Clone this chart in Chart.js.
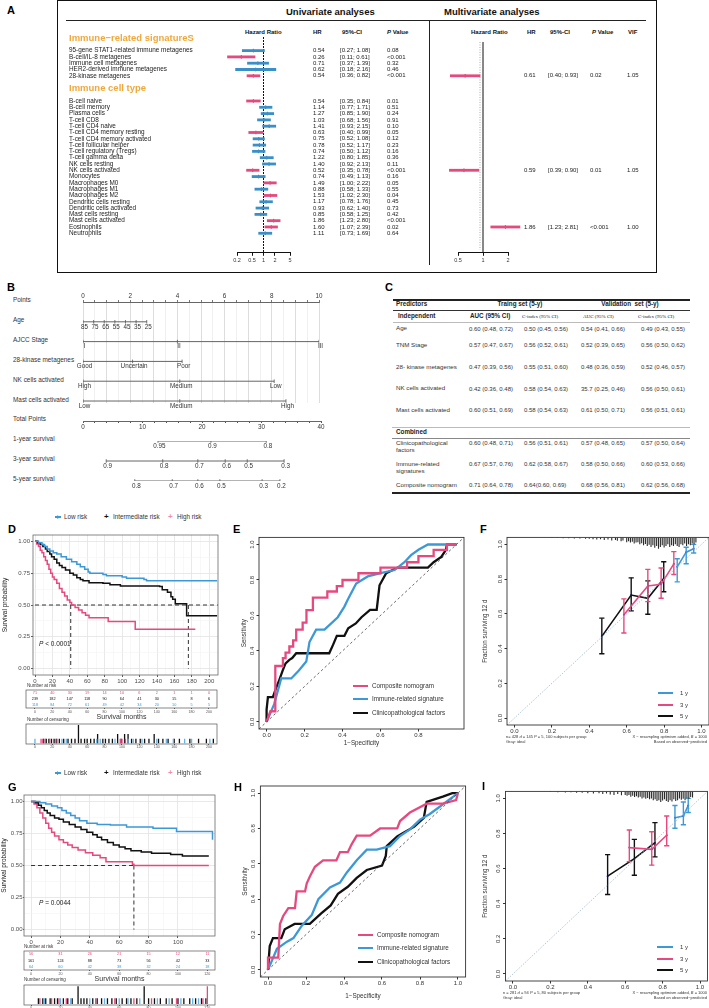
<!DOCTYPE html>
<html><head><meta charset="utf-8">
<script src="https://cdn.jsdelivr.net/npm/chart.js@4.4.1/dist/chart.umd.min.js"></script>
<style>
html,body{margin:0;padding:0;background:#fff;}
#page{position:relative;width:709px;height:1008px;overflow:hidden;font-family:'Liberation Sans',Arial,sans-serif;color:#222;}
.t{position:absolute;white-space:nowrap;line-height:1;}
.ln{position:absolute;}
canvas{position:absolute;}
</style></head><body><div id="page"></div>
<script>
// ======================= DATA =======================
// ---- Panel A: univariate / multivariate Cox ----
const sigNames=['95-gene STAT1-related immune metagenes','B-cell/IL-8 metagenes','Immune cell metagenes','HER2-derived immune metagenes','28-kinase metagenes'];
const sigHR=[0.54,0.26,0.71,0.62,0.54];
const sigLow=[0.27,0.11,0.37,0.18,0.36];
const sigHigh=[1.08,0.61,1.39,2.16,0.82];
const sigP=['0.08','<0.001','0.32','0.46','<0.001'];
const cellNames=['B-cell naive','B-cell memory','Plasma cells','T-cell CD8','T-cell CD4 naive','T-cell CD4 memory resting','T-cell CD4 memory activated','T-cell follicular helper','T-cell regulatory (Tregs)','T-cell gamma delta','NK cells resting','NK cells activated','Monocytes','Macrophages M0','Macrophages M1','Macrophages M2','Dendritic cells resting','Dendritic cells activated','Mast cells resting','Mast cells activated','Eosinophils','Neutrophils'];
const cellHR=[0.54,1.14,1.27,1.03,1.41,0.63,0.75,0.78,0.74,1.22,1.40,0.52,0.74,1.49,0.88,1.53,1.17,0.93,0.85,1.86,1.60,1.11];
const cellLow=[0.35,0.77,0.85,0.68,0.93,0.40,0.52,0.52,0.50,0.80,0.92,0.35,0.49,1.00,0.58,1.02,0.78,0.62,0.58,1.23,1.07,0.73];
const cellHigh=[0.84,1.71,1.90,1.56,2.15,0.99,1.08,1.17,1.12,1.85,2.13,0.78,1.13,2.22,1.33,2.30,1.76,1.40,1.25,2.80,2.39,1.69];
const cellP=['0.01','0.51','0.24','0.91','0.10','0.05','0.12','0.23','0.16','0.36','0.11','<0.001','0.16','0.05','0.55','0.04','0.45','0.73','0.42','<0.001','0.02','0.64'];
const multiNames=['28-kinase metagenes','NK cells activated','Eosinophils'];
const multiHR=[0.61,0.59,1.86];
const multiLow=[0.40,0.39,1.23];
const multiHigh=[0.93,0.90,2.81];
const multiP=['0.02','0.01','<0.001'];
const multiVIF=['1.05','1.05','1.00'];
const uniTicks=[0.2,0.5,1,2,5];
const multiTicks=[0.5,1,2];

// ---- Panel B: nomogram ----
const pointTicks=[0,2,4,6,8,10];
const ageLevels=['85','75','65','55','45','35','25'];
const agePts=[0,0.45,0.9,1.35,1.8,2.25,2.7];
const stageLevels=['I','II','III'];
const stagePts=[0,4,10];
const kinaseLevels=['Good','Uncertain','Poor'];
const kinasePts=[0,2.1,4.2];
const nkLevels=['High','Medium','Low'];
const nkPts=[0,4.1,8.1];
const mastLevels=['Low','Medium','High'];
const mastPts=[0,4.1,8.6];
const totalTicks=[0,10,20,30,40];
const surv1Levels=['0.95','0.9','0.8'];
const surv1Tot=[12.6,21.5,30.8];
const surv3Levels=['0.9','0.8','0.7','0.6','0.5','0.3'];
const surv3Tot=[3.9,13.4,19.3,23.9,27.6,33.8];
const surv5Levels=['0.8','0.7','0.6','0.5','0.3','0.2'];
const surv5Tot=[8.7,15.0,19.3,23.0,30.1,33.1];

// ---- Panel C: table ----
const tblPred=['Age','TNM Stage','28- kinase metagenes','NK cells activated','Mast cells activated'];
const tblTrainAUC=['0.60 (0.48, 0.72)','0.57 (0.47, 0.67)','0.47 (0.39, 0.56)','0.42 (0.36, 0.48)','0.60 (0.51, 0.69)'];
const tblTrainC=['0.50 (0.45, 0.56)','0.56 (0.52, 0.61)','0.55 (0.51, 0.60)','0.58 (0.54, 0.63)','0.58 (0.54, 0.63)'];
const tblValAUC=['0.54 (0.41, 0.66)','0.52 (0.39, 0.65)','0.48 (0.36, 0.59)','35.7 (0.25, 0.46)','0.61 (0.50, 0.71)'];
const tblValC=['0.49 (0.43, 0.55)','0.56 (0.50, 0.62)','0.52 (0.46, 0.57)','0.56 (0.50, 0.61)','0.56 (0.51, 0.61)'];
const tblComb=[['Clinicopathological','factors'],['Immune-related','signatures'],['Composite nomogram']];
const tblCombTrainAUC=['0.60 (0.48, 0.71)','0.67 (0.57, 0.76)','0.71 (0.64, 0.78)'];
const tblCombTrainC=['0.56 (0.51, 0.61)','0.62 (0.58, 0.67)','0.64(0.60, 0.69)'];
const tblCombValAUC=['0.57 (0.48, 0.65)','0.58 (0.50, 0.66)','0.68 (0.56, 0.81)'];
const tblCombValC=['0.57 (0.50, 0.64)','0.60 (0.53, 0.66)','0.62 (0.56, 0.68)'];

// ---- Panel D: KM training ----
const kmD_lowT=[0,4,8,11,14,17,21,25,30,36,42,48,52,57,61,63,78,82,100,105,125,128,209];
const kmD_lowS=[1,0.99,0.975,0.96,0.94,0.925,0.91,0.90,0.88,0.86,0.84,0.82,0.80,0.78,0.76,0.75,0.74,0.73,0.72,0.71,0.70,0.69,0.69];
const kmD_intT=[0,3,6,9,12,14,17,19,22,25,28,31,35,40,44,48,52,55,62,78,86,98,143,146,152,156,158,161,174,209];
const kmD_intS=[1,0.99,0.975,0.96,0.94,0.92,0.90,0.88,0.86,0.83,0.81,0.795,0.775,0.75,0.735,0.715,0.70,0.69,0.675,0.67,0.66,0.65,0.645,0.62,0.60,0.565,0.545,0.51,0.415,0.415];
const kmD_highT=[0,2,4,6,8,10,12,14,16,18,20,22,25,28,31,34,37,40,42,46,50,54,58,62,84,115,184];
const kmD_highS=[1,0.98,0.96,0.93,0.91,0.88,0.85,0.82,0.78,0.75,0.72,0.70,0.67,0.63,0.60,0.57,0.54,0.52,0.50,0.48,0.46,0.44,0.42,0.40,0.37,0.31,0.31];
const kmD_medians=[41,176];
const kmD_xTicks=[0,20,40,60,80,100,120,140,160,180,200];
const kmD_riskHigh=[71,40,30,19,14,10,6,2,1,1,0];
const kmD_riskInt=[239,182,147,118,90,64,41,30,15,8,6];
const kmD_riskLow=[118,84,72,61,49,42,34,20,10,5,5];
const kmD_censLow=[[0,1],[31,1],[36,1],[71,1],[75,1],[92,1],[107,1],[113,1],[123,1],[140,1],[151,1],[159,1],[172,1],[180,1],[201,1]];
const kmD_censInt=[[10,1],[13,1],[16,1],[19,1],[22,1],[25,1],[28,1],[33,1],[38,1],[42,1],[46,1],[50,4],[53,1],[57,1],[60,1],[64,1],[68,1],[72,2],[78,1],[81,1],[85,1],[89,1],[95,2],[99,1],[103,2],[107,2],[111,1],[116,1],[121,1],[126,1],[131,1],[137,2],[142,1],[147,1],[153,1],[160,1],[166,1],[178,1],[188,1],[197,1],[205,1]];
const kmD_censHigh=[[7,1],[9,1],[12,1],[17,1],[24,1],[98,1],[100,1],[104,1]];

// ---- Panel G: KM validation ----
const kmG_lowT=[0,6,10,14,18,21,24,27,30,33,38,45,54,65,83,99,123.5];
const kmG_lowS=[1,0.99,0.98,0.965,0.95,0.93,0.91,0.89,0.87,0.85,0.83,0.82,0.815,0.80,0.79,0.765,0.70];
const kmG_intT=[0,3,5,7,9,11,13,16,19,22,26,30,34,38,42,45,48,52,56,60,64,68,75,82,95,103,121];
const kmG_intS=[1,0.99,0.97,0.95,0.93,0.91,0.89,0.87,0.86,0.84,0.82,0.80,0.78,0.76,0.74,0.72,0.70,0.68,0.66,0.645,0.63,0.615,0.605,0.595,0.585,0.575,0.575];
const kmG_highT=[0,2,4,6,8,10,12,14,16,19,22,25,28,32,37,42,47,51,69,70,121];
const kmG_highS=[1,0.98,0.95,0.91,0.87,0.83,0.79,0.76,0.73,0.70,0.68,0.66,0.64,0.62,0.60,0.58,0.56,0.53,0.51,0.50,0.50];
const kmG_medians=[70];
const kmG_xTicks=[0,20,40,60,80,100];
const kmG_riskMonths=[0,20,40,60,80,100,120];
const kmG_riskHigh=[56,31,26,21,15,12,11];
const kmG_riskInt=[161,124,88,73,56,42,33];
const kmG_riskLow=[64,60,42,38,32,24,18];
const kmG_censLow=[[9,1],[20,1],[27,1],[40,1],[50,1],[60,1],[66,1],[74,1],[86,1],[94,1],[102,1],[110,1],[114,1]];
const kmG_censInt=[[5,1],[8,1],[10,1],[13,1],[16,1],[18,1],[22,1],[25,1],[28,1],[32,3],[34,1],[36,1],[38,1],[42,1],[45,1],[48,1],[52,1],[55,1],[58,1],[62,1],[65,1],[68,1],[72,1],[77,3],[80,1],[84,1],[88,1],[92,1],[96,1],[100,1],[104,1],[108,1],[112,1],[116,1],[119,1]];
const kmG_censHigh=[[6,1],[14,1],[19,1],[24,1],[44,1],[57,1],[70,1],[82,1],[99,1],[117,1],[120,3]];
const kmYTicks=[0,0.25,0.5,0.75,1];
const kmYLabels=['0.00','0.25','0.50','0.75','1.00'];

// ---- Panel E / H: ROC ----
const rocE_compX=[0,0.02,0.046,0.046,0.086,0.086,0.10,0.10,0.12,0.12,0.14,0.14,0.156,0.156,0.19,0.19,0.21,0.21,0.244,0.244,0.32,0.32,0.37,0.37,0.40,0.40,0.484,0.484,0.60,0.60,0.74,0.74,0.80,0.80,0.88,0.88,0.95,0.95,1.0];
const rocE_compY=[0,0.06,0.06,0.315,0.315,0.36,0.36,0.39,0.39,0.425,0.425,0.46,0.46,0.52,0.52,0.56,0.56,0.63,0.63,0.70,0.70,0.735,0.735,0.765,0.765,0.80,0.80,0.838,0.838,0.87,0.87,0.90,0.90,0.935,0.935,0.97,0.97,1.0,1.0];
const rocE_immX=[0,0.04,0.077,0.13,0.17,0.209,0.226,0.261,0.305,0.375,0.41,0.428,0.472,0.533,0.60,0.674,0.726,0.761,0.80,0.85,1.0];
const rocE_immY=[0,0.10,0.245,0.245,0.29,0.34,0.45,0.52,0.52,0.59,0.65,0.69,0.78,0.82,0.838,0.856,0.90,0.94,0.97,1.0,1.0];
const rocE_clinX=[0,0,0.007,0.033,0.05,0.068,0.086,0.10,0.12,0.135,0.156,0.33,0.35,0.37,0.41,0.43,0.47,0.50,0.545,0.58,0.595,0.63,0.69,0.85,0.88,0.92,0.945,0.95,1.0];
const rocE_clinY=[0,0.07,0.14,0.14,0.19,0.24,0.293,0.33,0.35,0.36,0.387,0.387,0.434,0.485,0.485,0.528,0.555,0.59,0.631,0.631,0.77,0.838,0.87,0.87,0.90,0.93,0.97,1.0,1.0];
const rocE_xTicks=[0,0.2,0.4,0.6,0.8];
const rocH_compX=[0,0,0.054,0.063,0.08,0.107,0.142,0.151,0.195,0.204,0.221,0.247,0.29,0.36,0.379,0.42,0.44,0.467,0.537,0.59,0.68,0.695,0.747,0.835,0.92,0.99,1.0];
const rocH_compY=[0,0.07,0.07,0.26,0.305,0.35,0.35,0.444,0.444,0.49,0.53,0.583,0.62,0.62,0.666,0.666,0.71,0.759,0.759,0.80,0.80,0.842,0.89,0.94,0.94,0.96,1.0];
const rocH_immX=[0,0.047,0.10,0.134,0.178,0.23,0.265,0.326,0.379,0.414,0.467,0.52,0.572,0.642,0.695,0.747,0.80,0.85,0.90,0.95,1.0];
const rocH_immY=[0,0.12,0.16,0.18,0.25,0.31,0.40,0.466,0.494,0.55,0.62,0.68,0.68,0.70,0.757,0.795,0.85,0.88,0.92,0.96,1.0];
const rocH_clinX=[0,0.009,0.026,0.07,0.088,0.14,0.22,0.28,0.33,0.368,0.42,0.467,0.52,0.60,0.62,0.625,0.68,0.72,0.77,0.82,0.835,0.92,0.97,1.0];
const rocH_clinY=[0,0.135,0.18,0.18,0.23,0.26,0.26,0.32,0.365,0.43,0.47,0.52,0.565,0.59,0.645,0.70,0.755,0.78,0.81,0.86,0.95,0.98,1.0,1.0];
const rocH_xTicks=[0,0.2,0.4,0.6,0.8,1.0];
const rocYTicks=[0,0.2,0.4,0.6,0.8,1.0];

// ---- Panel F / I: calibration ----
const calF_1y={x:[0.87,0.918,0.958],y:[0.87,0.955,0.975],lo:[0.784,0.888,0.95],hi:[0.917,0.983,1.0]};
const calF_3y={x:[0.585,0.713,0.784,0.852],y:[0.595,0.76,0.77,0.888],lo:[0.49,0.67,0.69,0.826],hi:[0.686,0.856,0.864,0.958]};
const calF_5y={x:[0.467,0.624,0.713,0.798],y:[0.47,0.708,0.689,0.803],lo:[0.37,0.617,0.598,0.727],hi:[0.575,0.807,0.79,0.90]};
const calI_1y={x:[0.866,0.911,0.937],y:[0.89,0.90,0.96],lo:[0.83,0.85,0.92],hi:[0.96,0.98,1.0]};
const calI_3y={x:[0.622,0.742,0.822],y:[0.72,0.71,0.79],lo:[0.64,0.62,0.73],hi:[0.82,0.81,0.90]};
const calI_5y={x:[0.506,0.649,0.759],y:[0.557,0.657,0.748],lo:[0.453,0.562,0.667],hi:[0.68,0.767,0.862]};
const rugF=[[0.20,0.004],[0.23,0.004],[0.26,0.005],[0.29,0.005],[0.32,0.006],[0.35,0.006],[0.38,0.008],[0.40,0.008],[0.42,0.01],[0.44,0.012],[0.46,0.01],[0.48,0.015],[0.50,0.012],[0.52,0.018],[0.54,0.015],[0.55,0.02],[0.57,0.022],[0.58,0.018],[0.60,0.028],[0.61,0.022],[0.62,0.03],[0.63,0.025],[0.64,0.035],[0.65,0.03],[0.66,0.028],[0.67,0.04],[0.68,0.033],[0.69,0.045],[0.70,0.038],[0.71,0.05],[0.72,0.042],[0.73,0.055],[0.74,0.045],[0.75,0.06],[0.76,0.05],[0.77,0.065],[0.78,0.055],[0.79,0.045],[0.80,0.058],[0.81,0.05],[0.82,0.04],[0.83,0.055],[0.84,0.045],[0.85,0.05],[0.86,0.04],[0.87,0.05],[0.88,0.055],[0.89,0.04],[0.90,0.045],[0.91,0.035],[0.92,0.05],[0.93,0.04],[0.94,0.045],[0.95,0.035],[0.96,0.04],[0.97,0.03]];
const rugI=[[0.20,0.004],[0.24,0.005],[0.28,0.006],[0.31,0.005],[0.34,0.008],[0.37,0.008],[0.40,0.01],[0.43,0.012],[0.46,0.01],[0.48,0.015],[0.50,0.012],[0.52,0.018],[0.54,0.02],[0.56,0.015],[0.58,0.022],[0.60,0.02],[0.61,0.025],[0.62,0.02],[0.63,0.03],[0.64,0.025],[0.65,0.032],[0.66,0.028],[0.67,0.035],[0.68,0.03],[0.69,0.04],[0.70,0.035],[0.71,0.042],[0.72,0.038],[0.73,0.045],[0.74,0.04],[0.75,0.05],[0.76,0.045],[0.77,0.055],[0.78,0.05],[0.79,0.06],[0.80,0.052],[0.81,0.045],[0.82,0.055],[0.83,0.06],[0.84,0.05],[0.85,0.058],[0.86,0.045],[0.87,0.055],[0.88,0.05],[0.89,0.04],[0.90,0.048],[0.91,0.042],[0.92,0.05],[0.93,0.038],[0.94,0.042],[0.95,0.032],[0.96,0.035]];
const calTicks=[0,0.2,0.4,0.6,0.8,1.0];

// ======================= STYLE / HELPERS =======================
const FAM="'Liberation Sans', Arial, sans-serif";
const FBLUE='#3a8fc9', FPINK='#e44a7e', ORANGE='#f0a83a';
const BLUE='#3d99d6', PINK='#e6497f', BLACK='#111111';
Chart.defaults.font.family=FAM;
Chart.defaults.animation=false;
Chart.defaults.responsive=false;
Chart.defaults.maintainAspectRatio=false;
Chart.defaults.devicePixelRatio=1;
Chart.defaults.events=[];
Chart.defaults.plugins.legend.display=false;
Chart.defaults.plugins.tooltip.enabled=false;

const page=document.getElementById('page');
function txt(s,x,y,size,o){o=o||{};const d=document.createElement('div');d.className='t';
  if(o.html)d.innerHTML=s;else d.textContent=s;
  d.style.top=(y-size/2)+'px';d.style.fontSize=size+'px';
  if(o.align==='right'){d.style.right=(709-x)+'px';}else{d.style.left=x+'px';}
  if(o.align==='center')d.style.transform='translateX(-50%)';
  if(o.bold)d.style.fontWeight='bold';if(o.italic)d.style.fontStyle='italic';
  if(o.color)d.style.color=o.color;if(o.family)d.style.fontFamily=o.family;
  page.appendChild(d);return d;}
function hrule(x1,x2,y,w,c){const d=document.createElement('div');d.className='ln';d.style.left=x1+'px';d.style.top=(y-w/2)+'px';d.style.width=(x2-x1)+'px';d.style.height=w+'px';d.style.background=c;page.appendChild(d);}
function vrule(x,y1,y2,w,c){const d=document.createElement('div');d.className='ln';d.style.left=(x-w/2)+'px';d.style.top=y1+'px';d.style.width=w+'px';d.style.height=(y2-y1)+'px';d.style.background=c;page.appendChild(d);}
function cv(x,y,w,h){const c=document.createElement('canvas');c.width=w;c.height=h;c.style.left=x+'px';c.style.top=y+'px';c.style.width=w+'px';c.style.height=h+'px';page.appendChild(c);return c;}
function frame(color,width){return {id:'frame',afterDraw(ch){const a=ch.chartArea,c=ch.ctx;c.save();c.strokeStyle=color;c.lineWidth=width;c.strokeRect(a.left,a.top,a.right-a.left,a.bottom-a.top);c.restore();}};}
function letter(s,x,y){txt(s,x,y,11,{bold:true,color:'#000'});}
const isSig=p=>p.charAt(0)==='<'||parseFloat(p)<=0.05;

// ======================= PANEL A =======================
letter('A',7,10);
const boxA=document.createElement('div');boxA.className='ln';
Object.assign(boxA.style,{left:'57px',top:'0px',width:'600px',height:'273px',border:'1.5px solid #111',boxSizing:'border-box'});
page.appendChild(boxA);
txt('Univariate analyses',286,12,9.5,{bold:true,color:'#111'});
txt('Multivariate analyses',444,12,9.5,{bold:true,color:'#111'});
hrule(66,646,20,1,'#222');
vrule(429,20,265,1,'#222');
[['Hazard Ratio',245],['HR',313],['95%-CI',342],['<i>P</i> Value',387],['Hazard Ratio',471],['HR',527],['95%-CI',550],['<i>P</i> Value',592],['VIF',628]]
  .forEach(h=>txt(h[0],h[1],32,6,{bold:true,html:true,color:'#111'}));

const rows=[];
rows.push({head:'Immune\u2212related signatureS'});rows.push({});
sigNames.forEach((n,i)=>rows.push({name:n,hr:sigHR[i],lo:sigLow[i],hi:sigHigh[i],p:sigP[i]}));
rows.push({});rows.push({head:'Immune cell type'});rows.push({});
cellNames.forEach((n,i)=>rows.push({name:n,hr:cellHR[i],lo:cellLow[i],hi:cellHigh[i],p:cellP[i]}));
const ciStr=(lo,hi)=>'['+lo.toFixed(2)+'; '+hi.toFixed(2)+']';

function forest(canvas,items,xmin,xmax,ticks,pad,refTop,refDash,texts){
  const ci=[],pts=[];
  items.forEach(it=>{ci.push({x:it.lo,y:it.idx},{x:it.hi,y:it.idx},{x:it.hi,y:null});pts.push({x:it.hr,y:it.idx});});
  const col=i=>items[i].sig?FPINK:FBLUE;
  const dark=i=>items[i].sig?'#b23460':'#2a6c9c';
  new Chart(canvas,{type:'line',data:{datasets:[
    {data:ci,borderWidth:2.8,pointRadius:0,clip:false,borderColor:FBLUE,segment:{borderColor:c=>col(Math.floor(c.p0DataIndex/3))}},
    {data:pts,showLine:false,clip:false,pointStyle:'line',rotation:90,pointRadius:1.8,pointBorderWidth:1,pointBorderColor:pts.map((p,i)=>dark(i))}
  ]},options:{layout:{padding:pad},scales:{
    x:{type:'logarithmic',min:xmin,max:xmax,afterBuildTicks:s=>{s.ticks=ticks.map(v=>({value:v}));},afterFit:s=>{s.height=14.2;},
       ticks:{callback:v=>String(v),font:{size:5.5},color:'#333',padding:1,maxRotation:0,autoSkip:false},
       grid:{drawOnChartArea:false,tickLength:3,color:'#111'},border:{display:true,color:'#111',width:1}},
    y:{type:'linear',reverse:true,min:-1,max:34.1,display:false}}},
   plugins:[{id:'fref',beforeDatasetsDraw(ch){const c=ch.ctx,x=ch.scales.x.getPixelForValue(1);c.save();c.strokeStyle='#111';c.lineWidth=1;c.setLineDash(refDash);c.beginPath();c.moveTo(x,refTop);c.lineTo(x,ch.chartArea.bottom);c.stroke();
       if(!refDash.length){c.strokeStyle='#aaa';c.setLineDash([1,1.5]);c.beginPath();c.moveTo(x-3,refTop);c.lineTo(x-3,ch.chartArea.bottom-3);c.stroke();}
       c.restore();},
     afterDraw(ch){texts(ch);}}]});
}
// univariate
const uniItems=[];rows.forEach((r,i)=>{if(r.name)uniItems.push({idx:i,hr:r.hr,lo:r.lo,hi:r.hi,sig:isSig(r.p)});});
forest(cv(60,22,368,245),uniItems,0.2,5,uniTicks,{left:177,right:138,top:9.7,bottom:0},15,[2,1],ch=>{
  const c=ch.ctx,y=ch.scales.y;c.save();c.textBaseline='middle';
  rows.forEach((r,i)=>{const py=y.getPixelForValue(i);
    if(r.head){c.font='bold 9.5px '+FAM;c.fillStyle=ORANGE;c.fillText(r.head,9,py);}
    else if(r.name){c.fillStyle='#222';c.font='6.4px '+FAM;c.fillText(r.name,9,py);
      c.font='6px '+FAM;c.fillText(r.hr.toFixed(2),253,py);c.fillText(ciStr(r.lo,r.hi),280,py);c.fillText(r.p,327,py);}});
  c.restore();});
// multivariate
const multiItems=multiNames.map((n,i)=>({idx:rows.findIndex(r=>r.name===n),hr:multiHR[i],lo:multiLow[i],hi:multiHigh[i],sig:true}));
forest(cv(430,22,226,245),multiItems,0.5,2,multiTicks,{left:28,right:148,top:9.7,bottom:0},20,[],ch=>{
  const c=ch.ctx,y=ch.scales.y;c.save();c.textBaseline='middle';c.fillStyle='#222';c.font='6px '+FAM;
  multiItems.forEach((it,i)=>{const py=y.getPixelForValue(it.idx);
    c.fillText(multiHR[i].toFixed(2),94,py);c.fillText(ciStr(multiLow[i],multiHigh[i]),118,py);c.fillText(multiP[i],160,py);c.fillText(multiVIF[i],197,py);});
  c.restore();});

// ======================= PANEL B =======================
letter('B',7,287.5);
[['Points',300],['Age',320],['AJCC Stage',340],['28-kinase metagenes',360],['NK cells activated',380],['Mast cells activated',400],['Total Points',419],['1-year survival',439],['3-year survival',459],['5-year survival',479]]
  .forEach(l=>txt(l[0],13,l[1],6.4,{color:'#333'}));
function rowDatasets(spec){return spec.map(r=>({data:r.pts.map(p=>({x:p,y:r.row})),borderColor:'#555',borderWidth:0.9,pointStyle:'line',rotation:90,pointRadius:1.8,pointBorderColor:'#555',pointBorderWidth:0.8}));}
function rowLabels(spec){return {id:'rowlab',afterDraw(ch){const c=ch.ctx,xs=ch.scales.x,ys=ch.scales.y;c.save();c.font='6.3px '+FAM;c.fillStyle='#333';c.textAlign='center';c.textBaseline='middle';
  spec.forEach(r=>r.pts.forEach((p,k)=>c.fillText(r.labels[k],xs.getPixelForValue(p)+1.5,ys.getPixelForValue(r.row)+5)));c.restore();}};}
const nomoTop=[{row:1,pts:agePts,labels:ageLevels},{row:2,pts:stagePts,labels:stageLevels},{row:3,pts:kinasePts,labels:kinaseLevels},{row:4,pts:nkPts,labels:nkLevels},{row:5,pts:mastPts,labels:mastLevels}];
new Chart(cv(13,290,320,120),{type:'line',data:{datasets:rowDatasets(nomoTop)},options:{layout:{padding:{left:70,right:14,top:0,bottom:7}},scales:{
  x:{type:'linear',position:'top',min:0,max:10,afterBuildTicks:s=>{const t=[];for(let v=0;v<=10.001;v+=0.5)t.push({value:Math.round(v*10)/10});s.ticks=t;},afterFit:s=>{s.height=12;},
     ticks:{autoSkip:false,maxRotation:0,padding:0,font:{size:6.3},color:'#333',callback:v=>pointTicks.includes(v)?String(v):''},
     grid:{color:g=>(g.tick&&g.tick.value%1===0)?'#d4d4d4':'#ececec',lineWidth:0.8,tickLength:2,tickColor:'#555'},border:{display:true,color:'#555',width:0.9}},
  y:{type:'linear',reverse:true,min:0,max:5.1,display:false}}},plugins:[rowLabels(nomoTop)]});
new Chart(cv(13,412,320,20),{type:'line',data:{datasets:[]},options:{layout:{padding:{left:70,right:12,top:0,bottom:0}},scales:{
  x:{type:'linear',position:'bottom',min:0,max:40,afterBuildTicks:s=>{const t=[];for(let v=0;v<=40;v+=2)t.push({value:v});s.ticks=t;},afterFit:s=>{s.height=11;},
     ticks:{autoSkip:false,maxRotation:0,padding:0,font:{size:6.3},color:'#333',callback:v=>totalTicks.includes(v)?String(v):''},
     grid:{drawOnChartArea:false,tickLength:2,color:'#555'},border:{display:true,color:'#555',width:0.9}},
  y:{display:false,min:0,max:1}}}});
const nomoBot=[{row:1,pts:surv1Tot,labels:surv1Levels},{row:2,pts:surv3Tot,labels:surv3Levels},{row:3,pts:surv5Tot,labels:surv5Levels}];
new Chart(cv(13,432,320,58),{type:'line',data:{datasets:rowDatasets(nomoBot)},options:{layout:{padding:{left:70,right:12,top:9,bottom:9}},scales:{
  x:{type:'linear',min:0,max:40,display:false},y:{type:'linear',reverse:true,min:1,max:3,display:false}}},plugins:[rowLabels(nomoBot)]});

// ======================= PANEL C =======================
letter('C',385,287.5);
hrule(393,690,300,1.5,'#222');
txt('Predictors',396,304,6.3,{bold:true});
txt('Traing set (5-y)',520,304,6.3,{bold:true,align:'center'});
txt('Validation &nbsp;set (5-y)',630,304,6.3,{bold:true,align:'center',html:true});
hrule(393,690,310.5,1,'#333');
txt('Independent',398,316,6.3,{bold:true});
txt('AUC (95% CI)',470,316,6.3,{bold:true});
txt('C-index (95% CI)',522,316,5,{family:"'Liberation Serif', serif"});
txt('AUC (95% CI)',583,316,5,{family:"'Liberation Serif', serif"});
txt('C-index (95% CI)',638,316,5,{family:"'Liberation Serif', serif"});
hrule(393,690,322,0.8,'#bbb');
const tblRowsY=[328.5,345,367,388.5,410];
tblPred.forEach((p,i)=>{const y=tblRowsY[i];txt(p,396,y,6.2,{color:'#333'});
  txt(tblTrainAUC[i],469,y,6,{color:'#333'});txt(tblTrainC[i],524,y,6,{color:'#333'});txt(tblValAUC[i],581,y,6,{color:'#333'});txt(tblValC[i],641,y,6,{color:'#333'});});
hrule(392,690,427,0.8,'#bbb');
txt('Combined',396,432,6.3,{bold:true});
hrule(392,690,438,0.8,'#888');
const tblCombY=[443,464,485];
tblComb.forEach((lines,i)=>{const y=tblCombY[i];lines.forEach((l,k)=>txt(l,396,y+k*7.3,6.2,{color:'#333'}));
  txt(tblCombTrainAUC[i],469,y,6,{color:'#333'});txt(tblCombTrainC[i],524,y,6,{color:'#333'});txt(tblCombValAUC[i],581,y,6,{color:'#333'});txt(tblCombValC[i],641,y,6,{color:'#333'});});
hrule(392,690,493,1.5,'#222');

// ======================= KM (D, G) =======================
function kmLegend(y){
  hrule(55,61,y,2,BLUE);txt('+',55.5,y,7,{color:BLUE,bold:true});txt('Low risk',64,y,6.3,{color:'#333'});
  txt('+',104,y,8,{color:'#111',bold:true});txt('Intermediate risk',113,y,6.3,{color:'#333'});
  txt('+',168,y,8,{color:'#f08cb0',bold:true});txt('High risk',177,y,6.3,{color:'#333'});
}
function kmChart(canvas,c){
  const ds=[];
  c.curves.forEach(k=>ds.push({data:k.t.map((t,i)=>({x:t,y:k.s[i]})),borderColor:k.color,borderWidth:1.5,stepped:true,pointRadius:0}));
  ds.push({data:[{x:0,y:0.5},{x:c.hEnd,y:0.5}],borderColor:'#333',borderWidth:1,borderDash:[4,3],pointRadius:0});
  c.medians.forEach(m=>ds.push({data:[{x:m,y:0.5},{x:m,y:0}],borderColor:'#333',borderWidth:1,borderDash:[4,3],pointRadius:0}));
  const xm=c.xTicks,xAll=xm.concat(xm.map(v=>v+(xm[1]-xm[0])/2).filter(v=>v<c.xMax)).sort((a,b)=>a-b);
  const ym=kmYTicks,yAll=ym.concat(ym.slice(0,-1).map(v=>v+0.125)).sort((a,b)=>a-b);
  new Chart(canvas,{type:'line',data:{datasets:ds},options:{layout:{padding:{top:c.padTop,right:c.padRight,left:0,bottom:0}},scales:{
    x:{type:'linear',min:c.xMin,max:c.xMax,afterBuildTicks:s=>{s.ticks=xAll.map(v=>({value:v}));},afterFit:s=>{s.height=13;},
       ticks:{autoSkip:false,maxRotation:0,font:{size:6},color:'#4d4d4d',padding:1,callback:v=>xm.includes(v)?String(v):''},
       grid:{color:g=>(g.tick&&xm.includes(g.tick.value))?'#e3e3e3':'#f1f1f1',lineWidth:g=>(g.tick&&xm.includes(g.tick.value))?0.8:0.5,tickLength:2,tickColor:g=>(g.tick&&xm.includes(g.tick.value))?'#333':'rgba(0,0,0,0)'},border:{display:false}},
    y:{type:'linear',min:-0.05,max:1.05,afterBuildTicks:s=>{s.ticks=yAll.map(v=>({value:v}));},afterFit:s=>{s.width=c.yW;},
       ticks:{autoSkip:false,font:{size:6},color:'#4d4d4d',padding:c.yPad,callback:v=>{const k=ym.indexOf(v);return k>=0?kmYLabels[k]:'';}},
       grid:{color:g=>(g.tick&&ym.includes(g.tick.value))?'#e3e3e3':'#f1f1f1',lineWidth:g=>(g.tick&&ym.includes(g.tick.value))?0.8:0.5,tickLength:c.yTick,tickColor:g=>(g.tick&&ym.includes(g.tick.value))?'#333':'rgba(0,0,0,0)'},border:{display:false},
       title:{display:true,text:'Survival probability',font:{size:6.5},color:'#222',padding:{top:c.yTitlePad,bottom:0}}}}},
    plugins:[frame('#6a6a6a',0.8)]});
}
function riskChart(canvas,c){
  new Chart(canvas,{type:'line',data:{datasets:[]},options:{layout:{padding:c.pad},scales:{
    x:{type:'linear',min:c.xMin,max:c.xMax,afterBuildTicks:s=>{s.ticks=c.months.map(v=>({value:v}));},afterFit:s=>{s.height=c.xH;},
       ticks:{autoSkip:false,maxRotation:0,font:{size:3.6},color:'#555',padding:0.5},grid:{drawOnChartArea:false,tickLength:1,color:'#555'},border:{display:false},
       title:{display:true,text:'Survival months',font:{size:7},color:'#333',padding:{top:0,bottom:0}}},
    y:{type:'linear',reverse:true,min:-0.46,max:2.46,display:false}}},
    plugins:[frame('#555',0.7),{id:'risk',afterDraw(ch){const x=ch.scales.x,y=ch.scales.y,ctx=ch.ctx;ctx.save();ctx.font='3.8px '+FAM;ctx.textAlign='center';ctx.textBaseline='middle';
      [[c.high,PINK],[c.inter,'#111'],[c.low,BLUE]].forEach((r,ri)=>{ctx.fillStyle=r[1];c.months.forEach((m,k)=>ctx.fillText(String(r[0][k]),x.getPixelForValue(m),y.getPixelForValue(ri)));});ctx.restore();}}]});
}
function censorChart(canvas,c){
  const seg=(arr,color)=>{const d=[];arr.forEach(([t,n])=>d.push({x:t,y:0},{x:t,y:n},{x:t,y:null}));return {data:d,borderColor:color,borderWidth:1.3,pointRadius:0};};
  new Chart(canvas,{type:'line',data:{datasets:[seg(c.low,'#62b4ea'),seg(c.high,PINK),seg(c.inter,'#111')]},options:{layout:{padding:c.pad},scales:{
    x:{type:'linear',min:c.xMin,max:c.xMax,afterBuildTicks:s=>{s.ticks=c.months.map(v=>({value:v}));},afterFit:s=>{s.height=c.xH;},
       ticks:{autoSkip:false,maxRotation:0,font:{size:3.6},color:'#555',padding:0},grid:{drawOnChartArea:false,tickLength:1,color:'#555'},border:{display:false}},
    y:{type:'linear',min:-0.15,max:c.yMax,display:false}}},plugins:[frame('#555',0.7)]});
}
// D
letter('D',8,529);
kmLegend(517);
kmChart(cv(0,508,222,180),{xMin:-2.3,xMax:210,xTicks:kmD_xTicks,padTop:27,padRight:4,yW:33,yPad:1,yTick:2,yTitlePad:1,hEnd:210,medians:kmD_medians,
  curves:[{t:kmD_lowT,s:kmD_lowS,color:BLUE},{t:kmD_intT,s:kmD_intS,color:BLACK},{t:kmD_highT,s:kmD_highS,color:PINK}]});
txt('<i>P</i> &lt; 0.0001',39,644,6.5,{html:true,color:'#222'});
txt('Number at risk',27,686,4.5,{color:'#333'});
riskChart(cv(20,688,202,33),{pad:{left:6,right:5,top:2,bottom:0},xH:13,xMin:-10.3,xMax:209.2,months:kmD_xTicks,high:kmD_riskHigh,inter:kmD_riskInt,low:kmD_riskLow});
txt('Number of censoring',27,720,4.5,{color:'#333'});
censorChart(cv(20,722,202,30),{pad:{left:6,right:5,top:2,bottom:0},xH:8,xMin:-10.3,xMax:209.2,months:kmD_xTicks,yMax:4.2,low:kmD_censLow,inter:kmD_censInt,high:kmD_censHigh});
// G
letter('G',8,787);
kmLegend(773);
kmChart(cv(0,790,220,159),{xMin:-4.8,xMax:125.2,xTicks:kmG_xTicks,padTop:5,padRight:5,yW:24,yPad:0.5,yTick:1,yTitlePad:0.6,hEnd:70,medians:kmG_medians,
  curves:[{t:kmG_lowT,s:kmG_lowS,color:BLUE},{t:kmG_intT,s:kmG_intS,color:BLACK},{t:kmG_highT,s:kmG_highS,color:PINK}]});
txt('<i>P</i> = 0.0044',39,903,6.5,{html:true,color:'#222'});
txt('Number at risk',24,947,4.5,{color:'#333'});
riskChart(cv(18,949,202,34),{pad:{left:6,right:5,top:2,bottom:0},xH:13,xMin:-4.8,xMax:125.2,months:kmG_riskMonths,high:kmG_riskHigh,inter:kmG_riskInt,low:kmG_riskLow});
txt('Number of censoring',24,980,4.5,{color:'#333'});
censorChart(cv(18,983,202,25),{pad:{left:6,right:5,top:2,bottom:0},xH:3,xMin:-4.8,xMax:125.2,months:kmG_riskMonths,yMax:3.2,low:kmG_censLow,inter:kmG_censInt,high:kmG_censHigh});

// ======================= ROC (E, H) =======================
function rAxis(ticks,size,titleText,titlePad,afterFitFn,isY){
  const o={type:'linear',min:-0.04,max:1.04,afterBuildTicks:s=>{s.ticks=ticks.map(v=>({value:v}));},afterFit:afterFitFn,
    ticks:{autoSkip:false,font:{size:6},color:'#333',padding:0,callback:v=>v.toFixed(1)},
    grid:{drawOnChartArea:false,tickLength:2.5,color:'#333'},border:{display:false}};
  if(isY){o.ticks.minRotation=90;o.ticks.maxRotation=90;o.ticks.crossAlign='center';}else{o.ticks.maxRotation=0;}
  if(titleText)o.title={display:true,text:titleText,font:{size:6.3},color:'#333',padding:{top:titlePad,bottom:0}};
  return o;
}
function rocChart(canvas,c){
  const ds=[{data:[{x:-0.04,y:-0.04},{x:1.04,y:1.04}],borderColor:'#444',borderWidth:0.8,borderDash:[2.5,2.5],pointRadius:0}];
  c.curves.forEach(k=>ds.push({data:k.x.map((x,i)=>({x,y:k.y[i]})),borderColor:k.color,borderWidth:2.3,pointRadius:0}));
  new Chart(canvas,{type:'line',data:{datasets:ds},options:{layout:{padding:c.pad},scales:{
    x:rAxis(c.xTicks,6,'1\u2212Specificity',1,s=>{s.height=c.xH;},false),
    y:rAxis(rocYTicks,6,'Sensitivity',c.yTitlePad,s=>{s.width=c.yW;},true)}},plugins:[frame('#333',0.9)]});
}
function rocLegend(x1,x2,ys){const names=['Composite nomogram','Immune-related signature','Clinicopathological factors'],cols=[PINK,BLUE,BLACK];
  ys.forEach((y,i)=>{hrule(x1,x2,y,2.2,cols[i]);txt(names[i],x2+4,y,6.3,{color:'#333'});});}
letter('E',233,529);
rocChart(cv(232,532,236,215),{pad:{top:5.4,right:4,left:0,bottom:0},xH:18,yW:27,yTitlePad:8.4,xTicks:rocE_xTicks,
  curves:[{x:rocE_compX,y:rocE_compY,color:PINK},{x:rocE_immX,y:rocE_immY,color:BLUE},{x:rocE_clinX,y:rocE_clinY,color:BLACK}]});
rocLegend(353,368,[686,699,713]);
letter('H',234,787);
rocChart(cv(232,781,236,219),{pad:{top:5,right:2.4,left:0,bottom:0},xH:23,yW:28.4,yTitlePad:9.4,xTicks:rocH_xTicks,
  curves:[{x:rocH_compX,y:rocH_compY,color:PINK},{x:rocH_immX,y:rocH_immY,color:BLUE},{x:rocH_clinX,y:rocH_clinY,color:BLACK}]});
rocLegend(358,373,[935,948,962]);

// ======================= CALIBRATION (F, I) =======================
function calChart(canvas,c){
  const ds=[{data:[{x:-0.04,y:-0.04},{x:1.04,y:1.04}],borderColor:'#9db6cf',borderWidth:0.8,borderDash:[1.5,1.5],pointRadius:0}];
  const rug=[];c.rug.forEach(([x,h])=>rug.push({x,y:1.04},{x,y:1.04-h},{x,y:null}));
  ds.push({data:rug,borderColor:'#2a2a2a',borderWidth:1.1,pointRadius:0});
  c.series.forEach(s=>{const eb=[];s.x.forEach((x,i)=>eb.push({x,y:s.lo[i]},{x,y:s.hi[i]},{x,y:null}));
    ds.push({data:eb,borderColor:s.color,borderWidth:1.4,pointStyle:'line',pointRadius:2.6,pointBorderColor:s.color,pointBorderWidth:1.4});
    ds.push({data:s.x.map((x,i)=>({x,y:s.y[i]})),borderColor:s.color,borderWidth:1.6,pointRadius:1,pointBackgroundColor:'#3b3bd0',pointBorderWidth:0});});
  new Chart(canvas,{type:'line',data:{datasets:ds},options:{layout:{padding:c.pad},scales:{
    x:rAxis(calTicks,6,null,0,s=>{s.height=c.xH;},false),
    y:rAxis(calTicks,6,'Fraction surviving 12 d',c.yTitlePad,s=>{s.width=c.yW;},true)}},plugins:[frame('#333',0.9)]});
}
function calLegend(x1,x2,ys){const names=['1 y','3 y','5 y'],cols=[BLUE,PINK,BLACK];
  ys.forEach((y,i)=>{hrule(x1,x2,y,2.2,cols[i]);txt(names[i],680,y,6,{color:'#333'});});}
letter('F',480,529.5);
calChart(cv(478,532,240,215),{pad:{top:3,right:9,left:0,bottom:0},xH:22,yW:29,yTitlePad:3.4,rug:rugF,
  series:[{...calF_1y,color:BLUE},{...calF_3y,color:PINK},{...calF_5y,color:BLACK}]});
calLegend(658,673,[693,705,716]);
txt('n= 428 <i>d</i> = 145 <i>P</i> = 5, 100 subjects per group',506,736.5,4,{html:true,color:'#333'});
txt('Gray: ideal',506,741.5,4,{color:'#333'});
txt('X \u2212 resampling optimism added, <i>B</i> = 1000',707,736.5,4,{html:true,align:'right',color:'#333'});
txt('Based on observed\u2212predicted',707,741.5,4,{align:'right',color:'#333'});
letter('I',482,786);
calChart(cv(476,786,240,222),{pad:{top:5,right:8.5,left:0,bottom:0},xH:27,yW:29.5,yTitlePad:5.4,rug:rugI,
  series:[{...calI_1y,color:BLUE},{...calI_3y,color:PINK},{...calI_5y,color:BLACK}]});
calLegend(657,673,[947,959,970]);
txt('n = 281 <i>d</i> = 94 <i>P</i> = 5, 80 subjects per group',503,992.5,4,{html:true,color:'#333'});
txt('Gray: ideal',503,997.5,4,{color:'#333'});
txt('X \u2212 resampling optimism added, <i>B</i> = 1000',707,993,4,{html:true,align:'right',color:'#333'});
txt('Based on observed\u2212predicted',707,998,4,{align:'right',color:'#333'});
</script></body></html>
